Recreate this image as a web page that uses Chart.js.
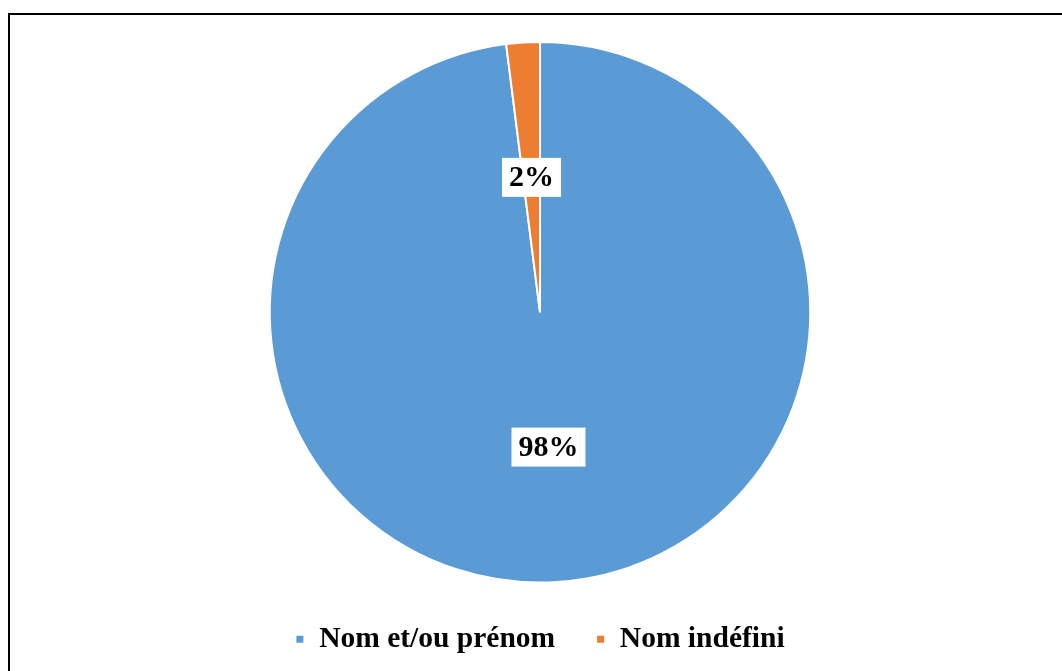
<!DOCTYPE html>
<html>
<head>
<meta charset="utf-8">
<script src="https://cdn.jsdelivr.net/npm/chart.js@4"></script>
<style>
  html, body { margin: 0; padding: 0; background: #fff; overflow: hidden; }
  #cadre {
    position: absolute; left: 8px; top: 13px;
    width: 1100px; height: 700px;
    border: 2px solid #000; box-sizing: border-box;
  }
  #zone { position: absolute; left: 10px; top: 15px; width: 1060px; height: 690px; }
</style>
</head>
<body>
<div id="cadre"></div>
<div id="zone"><canvas id="graphique"></canvas></div>
<script>
// Données
const categories = ["Nom et/ou prénom", "Nom indéfini"];
const pourcentages = [98, 2];
const couleurs = ["#5B9BD5", "#ED7D31"];

// Étiquettes avec fond blanc au milieu de chaque part
const etiquettes = {
  id: "etiquettes",
  afterDatasetsDraw(chart) {
    const ctx = chart.ctx;
    const meta = chart.getDatasetMeta(0);
    ctx.save();
    ctx.font = "bold 30px 'Liberation Serif', 'Times New Roman', serif";
    ctx.textAlign = "center";
    ctx.textBaseline = "middle";
    meta.data.forEach((arc, i) => {
      const pos = arc.tooltipPosition();
      const txt = pourcentages[i] + "%";
      const w = ctx.measureText(txt).width + 14;
      const h = 39;
      ctx.fillStyle = "#fff";
      ctx.fillRect(pos.x - w / 2, pos.y - h / 2, w, h);
      ctx.fillStyle = "#000";
      ctx.fillText(txt, pos.x, pos.y + 1);
    });
    ctx.restore();
  }
};

new Chart(document.getElementById("graphique"), {
  type: "pie",
  data: {
    labels: categories,
    datasets: [{
      data: pourcentages,
      backgroundColor: couleurs,
      borderColor: "#fff",
      borderWidth: 2
    }]
  },
  options: {
    responsive: true,
    maintainAspectRatio: false,
    animation: false,
    layout: { padding: { top: 26, bottom: 41 } },
    plugins: {
      tooltip: { enabled: false },
      legend: {
        position: "bottom",
        labels: {
          boxWidth: 9,
          boxHeight: 9,
          padding: 41,
          color: "#000",
          font: { family: "'Liberation Serif', 'Times New Roman', serif", size: 29.5, weight: "bold" }
        }
      }
    }
  },
  plugins: [etiquettes]
});
</script>
</body>
</html>
